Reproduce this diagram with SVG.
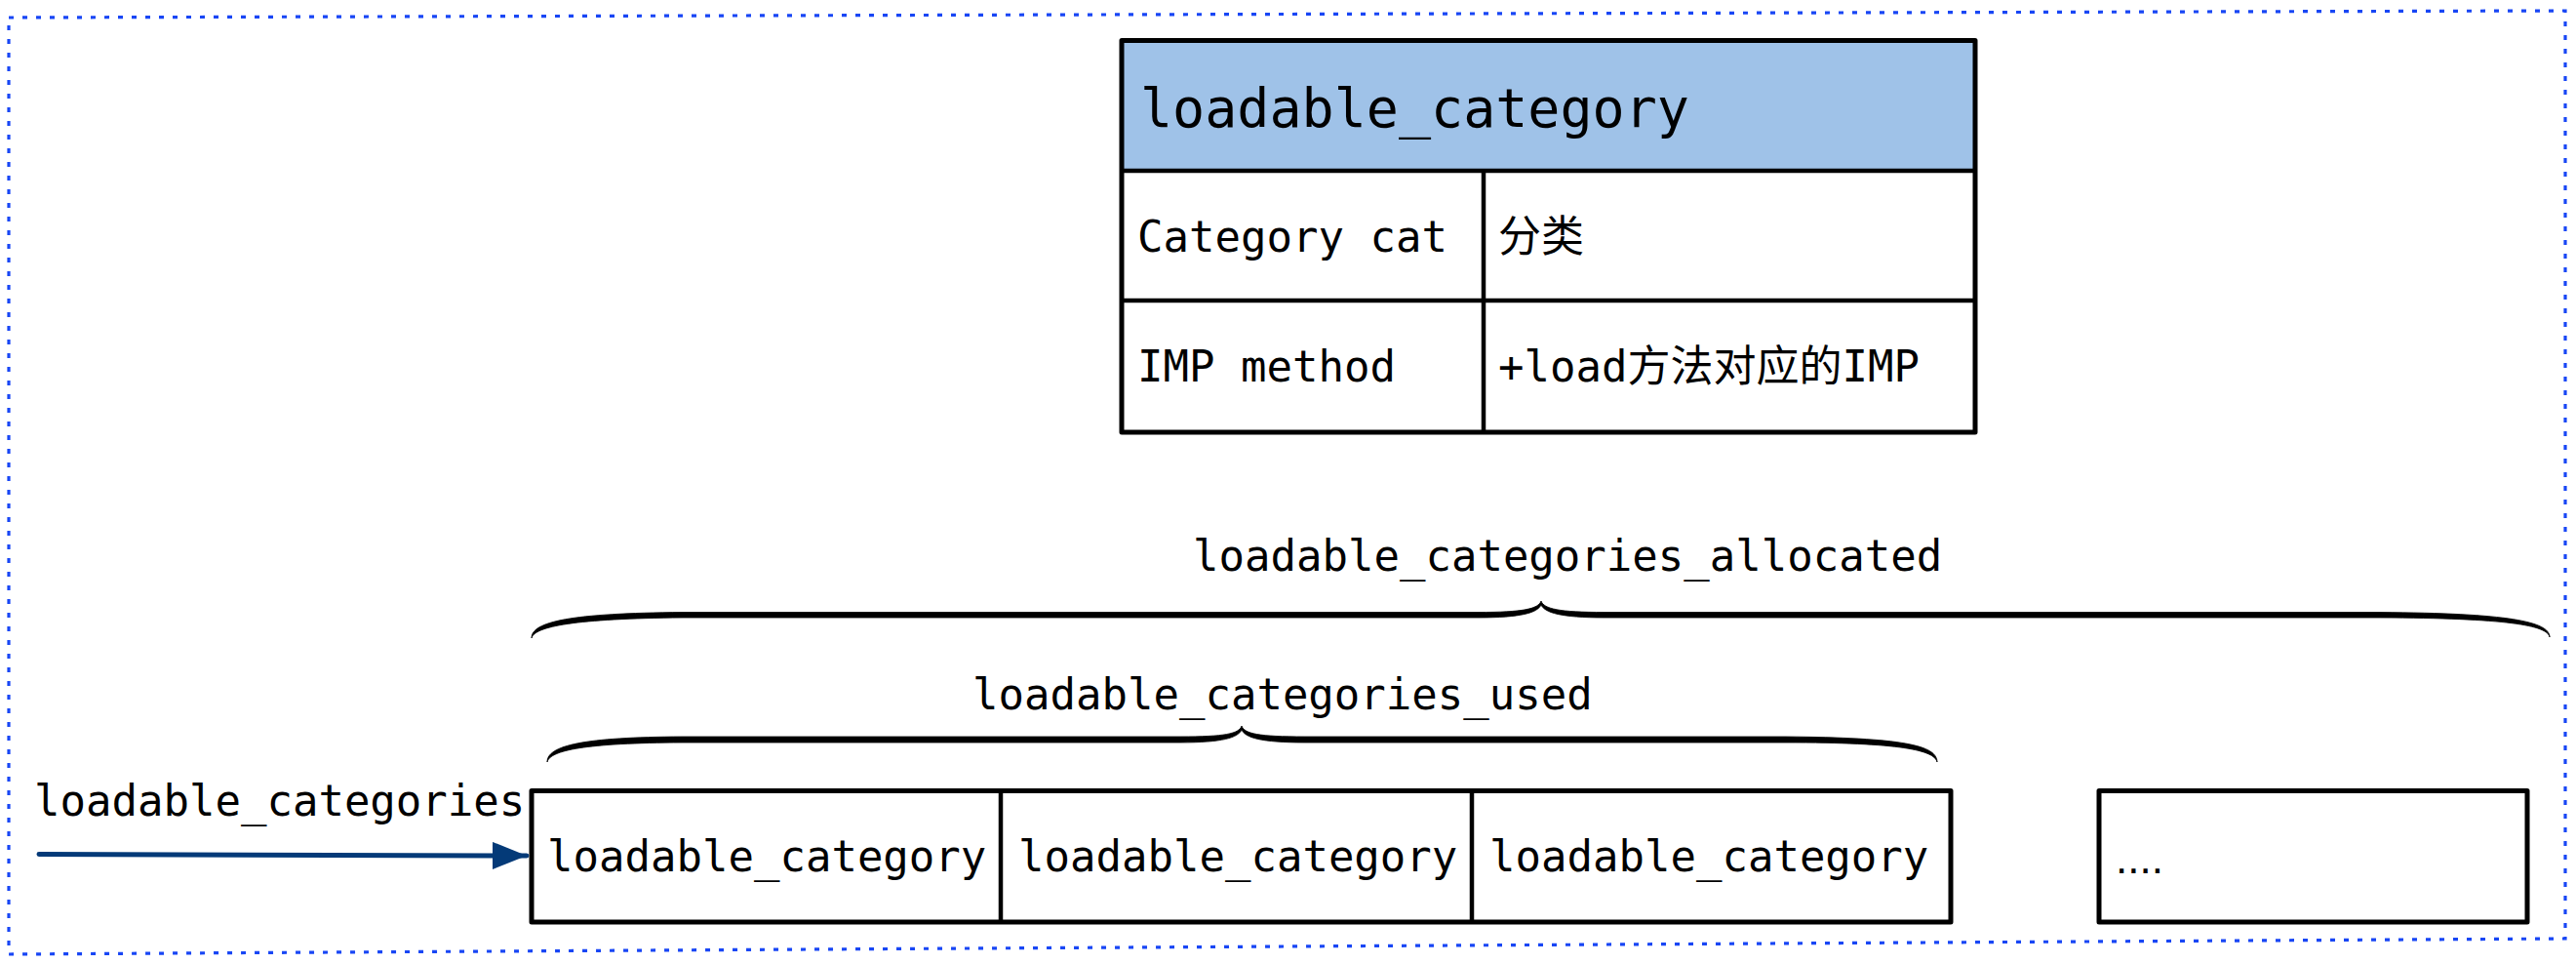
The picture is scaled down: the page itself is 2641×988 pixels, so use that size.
<svg xmlns="http://www.w3.org/2000/svg" width="2641" height="988" viewBox="0 0 2641 988">
<style>
  .mono { font-family: "DejaVu Sans Mono", "Noto Sans CJK SC", monospace; fill: #000; }
  .t44 { font-size: 44px; }
  .t55 { font-size: 55px; }
  .box { fill: none; stroke: #000; stroke-width: 5; stroke-linejoin: round; }
  .sep { stroke: #000; stroke-width: 4.5; fill: none; }
  .brace { fill: #000; stroke: #000; stroke-width: 0.8; stroke-linejoin: round; }
  .frame { fill: none; stroke: #1846f5; stroke-width: 3.2; stroke-dasharray: 5 9; }
</style>
<defs>
  <marker id="arrowhead" viewBox="0 0 35 28" refX="35" refY="14" markerWidth="35" markerHeight="28" markerUnits="userSpaceOnUse" orient="auto">
    <path d="M0,0 L35,14 L0,28 Z" fill="#043a78"/>
  </marker>
</defs>
<rect x="0" y="0" width="2641" height="988" fill="#ffffff"/>

<g id="frame">
  <path class="frame" d="M9,18 L2630,11 L2630,962 L9,978 Z"/>
</g>

<g id="struct-loadable-category">
  <rect x="1150" y="41.5" width="875" height="133.5" fill="#9fc2e8"/>
  <rect class="box" x="1150" y="41.5" width="875" height="401.5"/>
  <line class="sep" x1="1150" y1="175" x2="2025" y2="175"/>
  <line class="sep" x1="1150" y1="308" x2="2025" y2="308"/>
  <line class="sep" x1="1521" y1="175" x2="1521" y2="443"/>
  <text class="mono t55" x="1169" y="130">loadable_category</text>
  <text class="mono t44" x="1166" y="258">Category cat</text>
  <text class="mono t44" x="1536" y="258">分类</text>
  <text class="mono t44" x="1166" y="391">IMP method</text>
  <text class="mono t44" x="1536" y="391">+load方法对应的IMP</text>
</g>

<g id="brace-allocated">
  <path class="brace" d="M545,654 C545,637 585,628.5 700,627.5 L1515,627.5 C1562,627.5 1577,624 1580,616 C1583,624 1598,627.5 1645,627.5 L2440,627.5 C2572,628.5 2614,637 2614,653 C2612,641 2570,633.5 2440,633 L1645,633 C1600,633 1584,628 1580,620 C1576,628 1560,633 1515,633 L700,633 C590,634 548,642 545,654 Z"/>
  <text class="mono t44" x="1223" y="585">loadable_categories_allocated</text>
</g>

<g id="brace-used">
  <path class="brace" d="M561,781 C561,764 598,755.5 700,755 L1210,755 C1256,755 1270,752 1273,744 C1276,752 1290,755 1338,755 L1830,755 C1952,756 1986,764 1986,781 C1983,769 1950,761 1830,761 L1338,761 C1292,761 1277,756 1273,748 C1269,756 1254,761 1210,761 L700,761 C600,761.5 564,769 561,781 Z"/>
  <text class="mono t44" x="997" y="727">loadable_categories_used</text>
</g>

<g id="label-loadable-categories">
  <text class="mono t44" x="35" y="836">loadable_categories</text>
</g>

<g id="array-loadable-categories">
  <rect class="box" x="545" y="810.5" width="1455" height="134.5"/>
  <line class="sep" x1="1026" y1="810.5" x2="1026" y2="945"/>
  <line class="sep" x1="1509" y1="810.5" x2="1509" y2="945"/>
  <text class="mono t44" x="561" y="893">loadable_category</text>
  <text class="mono t44" x="1044" y="893">loadable_category</text>
  <text class="mono t44" x="1527" y="893">loadable_category</text>
</g>

<g id="array-rest">
  <rect class="box" x="2152" y="810.5" width="439" height="134.5"/>
  <text x="2169" y="895" font-family="Liberation Sans, Arial, sans-serif" font-size="44" fill="#000">....</text>
</g>

<g id="connectors">
  <path d="M40,875.5 L540,877" fill="none" stroke="#043a78" stroke-width="5" stroke-linecap="round" marker-end="url(#arrowhead)"/>
</g>
</svg>
